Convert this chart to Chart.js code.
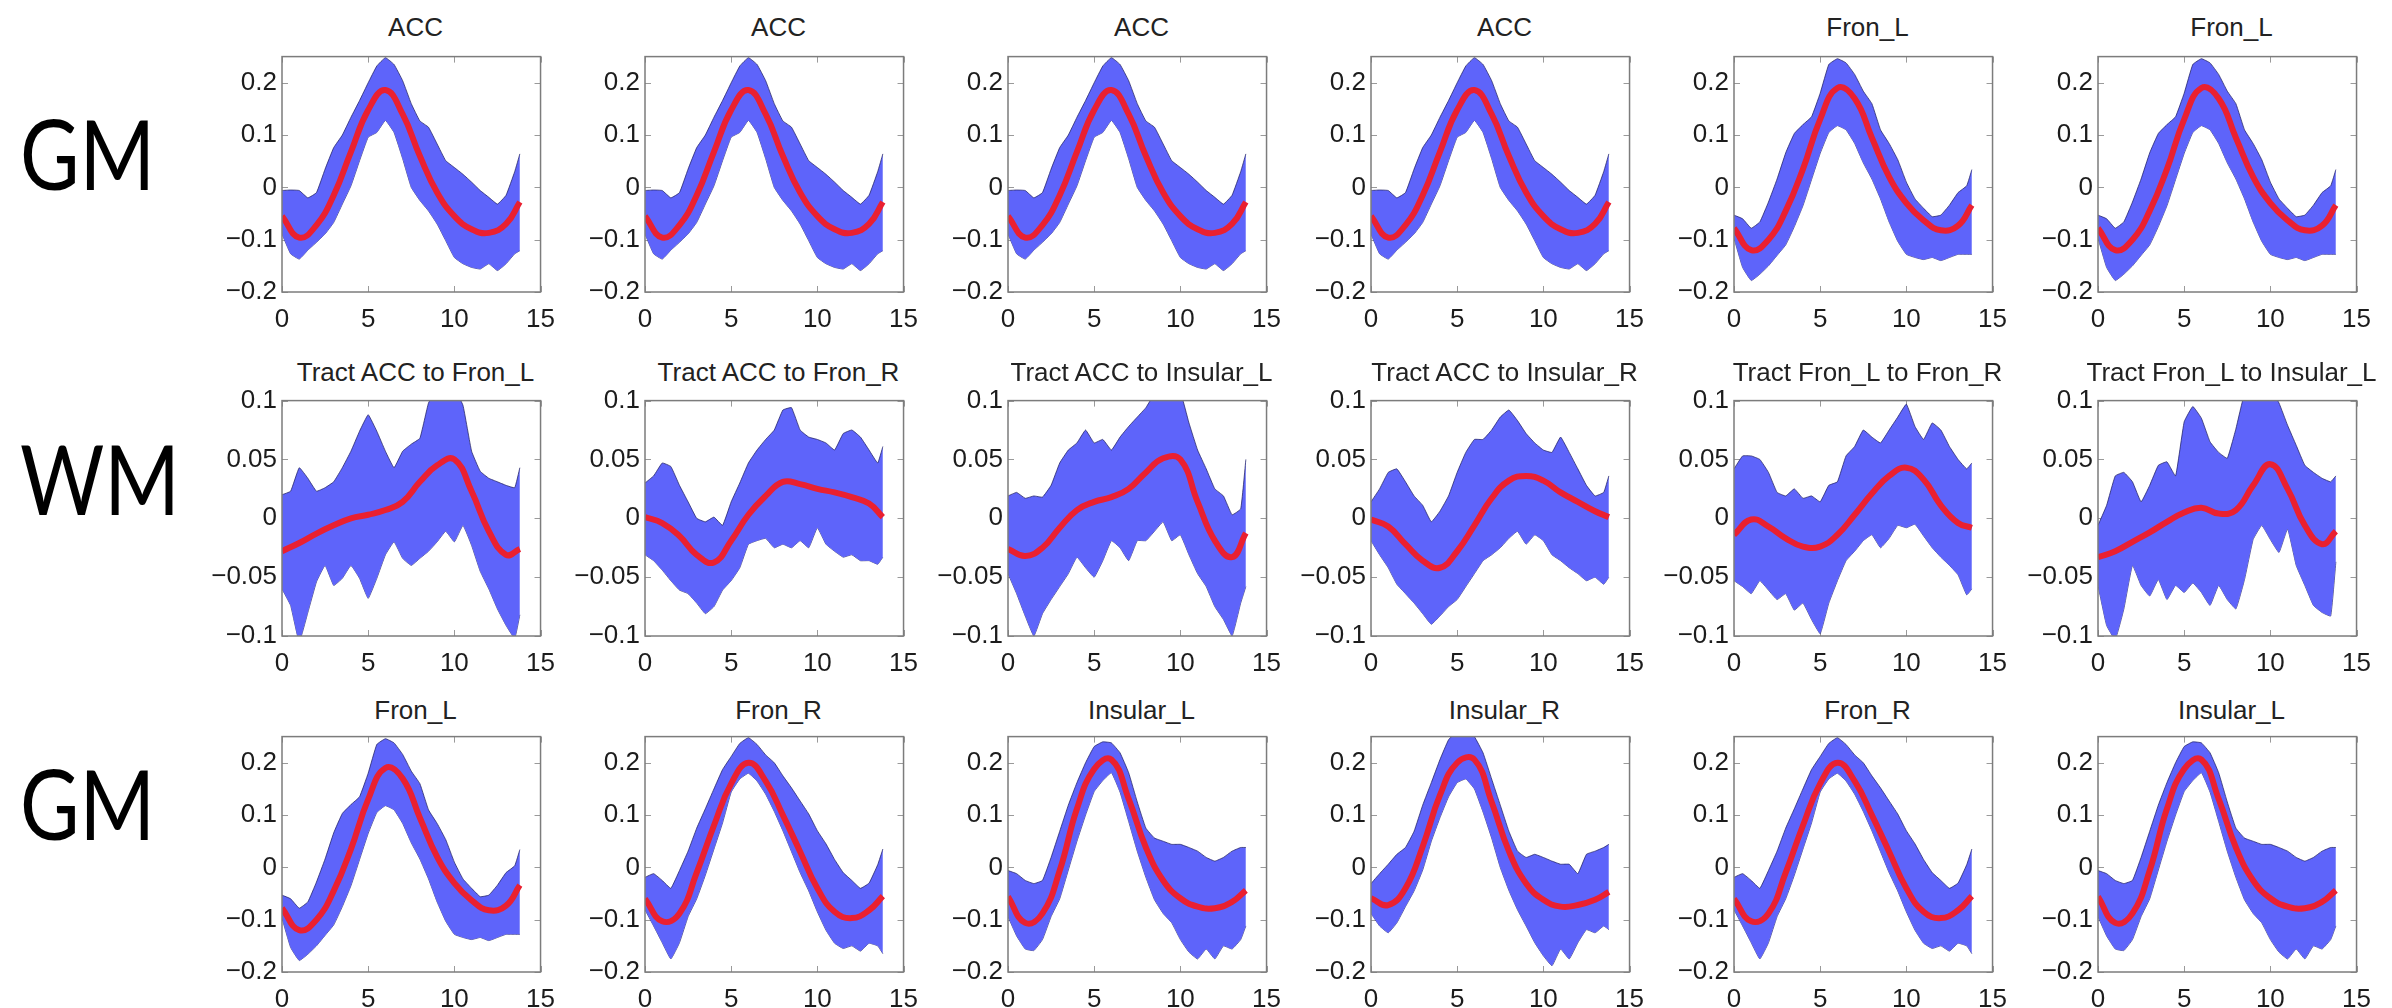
<!DOCTYPE html>
<html>
<head>
<meta charset="utf-8">
<script src="https://cdn.jsdelivr.net/npm/chart.js@4/dist/chart.umd.min.js"></script>
<style>
  html, body { margin: 0; padding: 0; background: #fff; }
  #page { position: relative; width: 2392px; height: 1008px; overflow: hidden; background: #fff; }
  #page canvas { position: absolute; }
  .title { position: absolute; font: 26px "Liberation Sans", Arial, sans-serif; line-height: 30px; color: #222; white-space: nowrap; transform: translateX(-50%); }
  .row-label { position: absolute; left: 20px; font: 97px Lato, sans-serif; line-height: 97px; color: #000; transform: scaleX(0.84); transform-origin: left top; }
</style>
</head>
<body>
<div id="page"></div>
<script>
// time axis (band samples every 0.5, mean every 1)
const xBand = [0, 0.5, 1, 1.5, 2, 2.5, 3, 3.5, 4, 4.5, 5, 5.5, 6, 6.5, 7, 7.5, 8, 8.5, 9, 9.5, 10, 10.5, 11, 11.5, 12, 12.5, 13, 13.5, 13.8];
const xMean = [0, 1, 2, 3, 4, 5, 6, 7, 8, 9, 10, 11, 12, 13, 13.8];

const xTicks = [0, 5, 10, 15];
const gmTicks = [-0.2, -0.1, 0, 0.1, 0.2];
const wmTicks = [-0.1, -0.05, 0, 0.05, 0.1];

// GM regions
const accMean = [-0.055, -0.096, -0.072, -0.015, 0.068, 0.148, 0.186, 0.14, 0.06, -0.01, -0.055, -0.08, -0.087, -0.07, -0.028];
const accUpper = [-0.006, -0.005, -0.006, -0.02, -0.01, 0.035, 0.076, 0.1, 0.134, 0.166, 0.2, 0.232, 0.248, 0.235, 0.204, 0.16, 0.127, 0.115, 0.083, 0.051, 0.038, 0.025, 0.01, -0.006, -0.019, -0.032, -0.015, 0.03, 0.064];
const accLower = [-0.089, -0.127, -0.137, -0.12, -0.105, -0.089, -0.067, -0.032, 0.003, 0.051, 0.096, 0.105, 0.128, 0.105, 0.055, 0, -0.025, -0.045, -0.07, -0.102, -0.134, -0.146, -0.153, -0.156, -0.146, -0.159, -0.146, -0.127, -0.121];

const fronLMean = [-0.078, -0.12, -0.1, -0.045, 0.035, 0.13, 0.19, 0.17, 0.095, 0.02, -0.03, -0.063, -0.082, -0.073, -0.034];
const fronLUpper = [-0.053, -0.06, -0.078, -0.066, -0.028, 0.016, 0.066, 0.103, 0.12, 0.135, 0.18, 0.235, 0.246, 0.238, 0.216, 0.184, 0.16, 0.11, 0.084, 0.053, 0.01, -0.022, -0.04, -0.056, -0.053, -0.034, -0.01, 0.003, 0.034];
const fronLLower = [-0.097, -0.153, -0.178, -0.166, -0.15, -0.13, -0.11, -0.075, -0.035, 0.015, 0.065, 0.105, 0.118, 0.11, 0.084, 0.047, 0.016, -0.022, -0.066, -0.103, -0.128, -0.134, -0.138, -0.134, -0.14, -0.134, -0.128, -0.128, -0.128];

const fronRMean = [-0.06, -0.103, -0.088, -0.01, 0.08, 0.16, 0.2, 0.165, 0.1, 0.03, -0.04, -0.085, -0.097, -0.082, -0.055];
const fronRUpper = [-0.019, -0.012, -0.025, -0.04, -0.006, 0.031, 0.075, 0.112, 0.15, 0.187, 0.212, 0.237, 0.248, 0.235, 0.215, 0.2, 0.175, 0.152, 0.127, 0.102, 0.07, 0.045, 0.015, -0.01, -0.025, -0.04, -0.03, 0.005, 0.035];
const fronRLower = [-0.081, -0.112, -0.144, -0.175, -0.144, -0.094, -0.06, -0.015, 0.035, 0.085, 0.144, 0.169, 0.18, 0.165, 0.14, 0.107, 0.07, 0.03, -0.01, -0.045, -0.085, -0.12, -0.145, -0.155, -0.15, -0.16, -0.145, -0.15, -0.165];

const insLMean = [-0.056, -0.106, -0.088, -0.006, 0.112, 0.188, 0.206, 0.131, 0.038, -0.025, -0.059, -0.075, -0.078, -0.066, -0.044];
const insLUpper = [-0.006, -0.012, -0.025, -0.031, -0.025, 0.019, 0.069, 0.119, 0.162, 0.2, 0.231, 0.24, 0.238, 0.219, 0.181, 0.125, 0.075, 0.056, 0.05, 0.044, 0.044, 0.038, 0.031, 0.019, 0.012, 0.019, 0.031, 0.038, 0.038];
const insLLower = [-0.094, -0.131, -0.156, -0.159, -0.138, -0.094, -0.06, -0.005, 0.05, 0.1, 0.145, 0.166, 0.181, 0.144, 0.088, 0.031, -0.019, -0.062, -0.088, -0.106, -0.138, -0.162, -0.175, -0.156, -0.175, -0.15, -0.156, -0.138, -0.112];

const insRMean = [-0.059, -0.072, -0.04, 0.04, 0.138, 0.2, 0.206, 0.125, 0.031, -0.031, -0.062, -0.075, -0.072, -0.062, -0.047];
const insRUpper = [-0.031, -0.012, 0.006, 0.025, 0.038, 0.069, 0.119, 0.162, 0.206, 0.244, 0.26, 0.265, 0.25, 0.219, 0.169, 0.119, 0.069, 0.031, 0.019, 0.025, 0.019, 0.012, 0.006, 0.006, -0.012, 0.025, 0.031, 0.038, 0.044];
const insRLower = [-0.088, -0.112, -0.125, -0.106, -0.075, -0.045, -0.005, 0.05, 0.095, 0.135, 0.162, 0.169, 0.15, 0.106, 0.056, 0, -0.044, -0.081, -0.112, -0.144, -0.169, -0.188, -0.156, -0.175, -0.144, -0.119, -0.125, -0.112, -0.119];

// WM tracts
const accFronLMean = [-0.028, -0.021, -0.013, -0.006, 0, 0.003, 0.007, 0.014, 0.031, 0.045, 0.05, 0.023, -0.011, -0.031, -0.026];
const accFronLUpper = [0.02, 0.023, 0.043, 0.034, 0.023, 0.026, 0.031, 0.043, 0.057, 0.074, 0.088, 0.074, 0.057, 0.043, 0.057, 0.063, 0.068, 0.098, 0.11, 0.115, 0.11, 0.096, 0.057, 0.04, 0.034, 0.031, 0.028, 0.026, 0.043];
const accFronLLower = [-0.06, -0.074, -0.105, -0.08, -0.054, -0.04, -0.057, -0.051, -0.04, -0.051, -0.068, -0.051, -0.031, -0.02, -0.034, -0.04, -0.034, -0.028, -0.02, -0.011, -0.02, -0.006, -0.023, -0.045, -0.06, -0.077, -0.091, -0.102, -0.082];

const accFronRMean = [0.001, -0.004, -0.015, -0.031, -0.0375, -0.019, 0.003, 0.019, 0.031, 0.029, 0.025, 0.022, 0.018, 0.0125, 0.001];
const accFronRUpper = [0.03, 0.036, 0.047, 0.044, 0.028, 0.014, 0, -0.003, 0.001, -0.006, 0.014, 0.03, 0.047, 0.058, 0.067, 0.075, 0.092, 0.094, 0.075, 0.069, 0.067, 0.064, 0.058, 0.072, 0.075, 0.069, 0.058, 0.047, 0.061];
const accFronRLower = [-0.031, -0.036, -0.044, -0.053, -0.061, -0.064, -0.072, -0.081, -0.075, -0.061, -0.053, -0.042, -0.022, -0.019, -0.017, -0.025, -0.022, -0.025, -0.019, -0.025, -0.008, -0.022, -0.028, -0.033, -0.031, -0.036, -0.036, -0.039, -0.033];

const accInsLMean = [-0.026, -0.032, -0.025, -0.008, 0.007, 0.014, 0.018, 0.025, 0.039, 0.051, 0.05, 0.014, -0.019, -0.033, -0.0125];
const accInsLUpper = [0.019, 0.022, 0.017, 0.019, 0.018, 0.028, 0.047, 0.058, 0.064, 0.075, 0.064, 0.067, 0.058, 0.069, 0.078, 0.086, 0.094, 0.106, 0.115, 0.12, 0.108, 0.081, 0.058, 0.042, 0.025, 0.019, 0.003, 0.008, 0.05];
const accInsLLower = [-0.047, -0.064, -0.083, -0.1, -0.081, -0.069, -0.058, -0.047, -0.033, -0.042, -0.05, -0.036, -0.019, -0.025, -0.036, -0.019, -0.019, -0.011, -0.003, -0.019, -0.014, -0.031, -0.047, -0.058, -0.075, -0.086, -0.1, -0.072, -0.058];

const accInsRMean = [-0.001, -0.007, -0.022, -0.036, -0.042, -0.028, -0.006, 0.017, 0.032, 0.036, 0.032, 0.022, 0.014, 0.006, 0.001];
const accInsRUpper = [0.014, 0.025, 0.039, 0.042, 0.031, 0.019, 0.011, -0.003, 0.006, 0.019, 0.039, 0.056, 0.067, 0.067, 0.075, 0.086, 0.092, 0.083, 0.072, 0.064, 0.058, 0.056, 0.069, 0.056, 0.042, 0.028, 0.019, 0.022, 0.036];
const accInsRLower = [-0.019, -0.031, -0.042, -0.056, -0.064, -0.072, -0.081, -0.09, -0.083, -0.075, -0.069, -0.058, -0.047, -0.036, -0.031, -0.025, -0.017, -0.011, -0.022, -0.014, -0.019, -0.031, -0.036, -0.042, -0.047, -0.053, -0.05, -0.056, -0.05];

const fronLFronRMean = [-0.014, -0.001, -0.007, -0.017, -0.024, -0.024, -0.014, 0.003, 0.021, 0.036, 0.043, 0.033, 0.011, -0.004, -0.008];
const fronLFronRUpper = [0.042, 0.053, 0.053, 0.05, 0.039, 0.022, 0.019, 0.025, 0.017, 0.019, 0.014, 0.028, 0.031, 0.053, 0.061, 0.075, 0.069, 0.064, 0.075, 0.086, 0.097, 0.078, 0.067, 0.081, 0.075, 0.061, 0.05, 0.042, 0.047];
const fronLFronRLower = [-0.053, -0.058, -0.064, -0.053, -0.061, -0.069, -0.064, -0.078, -0.072, -0.086, -0.098, -0.072, -0.053, -0.036, -0.028, -0.019, -0.014, -0.025, -0.017, -0.006, -0.008, -0.005, -0.015, -0.025, -0.033, -0.04, -0.048, -0.065, -0.06];

const fronLInsLMean = [-0.033, -0.028, -0.02, -0.012, -0.003, 0.005, 0.009, 0.004, 0.007, 0.028, 0.046, 0.025, -0.006, -0.022, -0.011];
const fronLInsLUpper = [-0.006, 0.011, 0.036, 0.039, 0.031, 0.014, 0.028, 0.045, 0.048, 0.036, 0.082, 0.095, 0.085, 0.065, 0.056, 0.051, 0.076, 0.106, 0.112, 0.115, 0.11, 0.098, 0.079, 0.062, 0.045, 0.039, 0.034, 0.031, 0.036];
const fronLInsLLower = [-0.057, -0.091, -0.103, -0.077, -0.04, -0.057, -0.066, -0.052, -0.069, -0.057, -0.063, -0.055, -0.063, -0.074, -0.057, -0.069, -0.077, -0.052, -0.018, -0.006, -0.018, -0.029, -0.009, -0.04, -0.057, -0.074, -0.08, -0.083, -0.037];

// panel table: [title, mean, upper, lower]
const rows = [
  { label: 'GM', yMin: -0.2, yMax: 0.25, yTicks: gmTicks, panels: [
    ['ACC', accMean, accUpper, accLower],
    ['ACC', accMean, accUpper, accLower],
    ['ACC', accMean, accUpper, accLower],
    ['ACC', accMean, accUpper, accLower],
    ['Fron_L', fronLMean, fronLUpper, fronLLower],
    ['Fron_L', fronLMean, fronLUpper, fronLLower]
  ]},
  { label: 'WM', yMin: -0.1, yMax: 0.1, yTicks: wmTicks, panels: [
    ['Tract ACC to Fron_L', accFronLMean, accFronLUpper, accFronLLower],
    ['Tract ACC to Fron_R', accFronRMean, accFronRUpper, accFronRLower],
    ['Tract ACC to Insular_L', accInsLMean, accInsLUpper, accInsLLower],
    ['Tract ACC to Insular_R', accInsRMean, accInsRUpper, accInsRLower],
    ['Tract Fron_L to Fron_R', fronLFronRMean, fronLFronRUpper, fronLFronRLower],
    ['Tract Fron_L to Insular_L', fronLInsLMean, fronLInsLUpper, fronLInsLLower]
  ]},
  { label: 'GM', yMin: -0.2, yMax: 0.25, yTicks: gmTicks, panels: [
    ['Fron_L', fronLMean, fronLUpper, fronLLower],
    ['Fron_R', fronRMean, fronRUpper, fronRLower],
    ['Insular_L', insLMean, insLUpper, insLLower],
    ['Insular_R', insRMean, insRUpper, insRLower],
    ['Fron_R', fronRMean, fronRUpper, fronRLower],
    ['Insular_L', insLMean, insLUpper, insLLower]
  ]}
];

// layout of the grid
const colLeft = [282, 645, 1008, 1371, 1734, 2098];
const rowTop = [52, 396, 732];
const titleMid = [27, 372, 710];
const labelTop = [104, 429, 754];
const boxW = 267, boxH = 240;
const padL = 80, padT = 16, padR = 18, padB = 46;

const bandColor = 'rgb(94, 100, 250)';
const bandEdge = 'rgba(35, 35, 100, 0.75)';
const meanColor = 'rgb(234, 32, 48)';

Chart.defaults.font.family = '"Liberation Sans", Arial, sans-serif';
Chart.defaults.font.size = 26;
Chart.defaults.color = '#1c1c1c';

function fmtTick(v) {
  return v < 0 ? '\u2212' + String(-v) : String(v);
}

function zip(xs, ys) {
  return xs.map((x, i) => ({ x: x, y: ys[i] }));
}

// matlab style box with inward ticks
const boxPlugin = {
  id: 'matlabBox',
  beforeDatasetsDraw(chart) {
    const { ctx, chartArea: a, scales } = chart;
    ctx.save();
    ctx.strokeStyle = '#9a9a9a';
    ctx.lineWidth = 1;
    ctx.beginPath();
    scales.x.ticks.forEach(t => {
      const px = Math.round(scales.x.getPixelForValue(t.value)) + 0.5;
      ctx.moveTo(px, a.bottom); ctx.lineTo(px, a.bottom - 6);
      ctx.moveTo(px, a.top); ctx.lineTo(px, a.top + 6);
    });
    scales.y.ticks.forEach(t => {
      const py = Math.round(scales.y.getPixelForValue(t.value)) + 0.5;
      ctx.moveTo(a.left, py); ctx.lineTo(a.left + 6, py);
      ctx.moveTo(a.right, py); ctx.lineTo(a.right - 6, py);
    });
    ctx.stroke();
    ctx.restore();
  },
  afterDatasetsDraw(chart) {
    const { ctx, chartArea: a } = chart;
    ctx.save();
    ctx.strokeStyle = '#7c7c7c';
    ctx.lineWidth = 1.5;
    ctx.strokeRect(a.left, a.top, a.right - a.left, a.bottom - a.top);
    ctx.restore();
  }
};

const page = document.getElementById('page');

rows.forEach((row, r) => {
  const lab = document.createElement('div');
  lab.className = 'row-label';
  lab.style.top = labelTop[r] + 'px';
  lab.textContent = row.label;
  page.appendChild(lab);

  row.panels.forEach((p, c) => {
    const [title, mean, upper, lower] = p;

    const t = document.createElement('div');
    t.className = 'title';
    t.style.left = (colLeft[c] + boxW / 2) + 'px';
    t.style.top = (titleMid[r] - 15) + 'px';
    t.textContent = title;
    page.appendChild(t);

    const canvas = document.createElement('canvas');
    const w = padL + boxW + padR, h = padT + boxH + padB;
    canvas.width = w;
    canvas.height = h;
    canvas.style.width = w + 'px';
    canvas.style.height = h + 'px';
    canvas.style.left = (colLeft[c] - padL) + 'px';
    canvas.style.top = (rowTop[r] - padT) + 'px';
    page.appendChild(canvas);

    new Chart(canvas, {
      type: 'line',
      data: {
        datasets: [
          {
            data: zip(xMean, mean),
            borderColor: meanColor,
            borderWidth: 6,
            pointRadius: 0,
            tension: 0.45,
            fill: false
          },
          {
            data: zip(xBand, upper),
            borderColor: bandEdge,
            borderWidth: 1,
            backgroundColor: bandColor,
            pointRadius: 0,
            tension: 0.1,
            fill: '+1'
          },
          {
            data: zip(xBand, lower),
            borderColor: bandEdge,
            borderWidth: 1,
            pointRadius: 0,
            tension: 0.1,
            fill: false
          }
        ]
      },
      options: {
        responsive: false,
        animation: false,
        devicePixelRatio: 1,
        layout: { padding: { top: padT, right: padR, left: 0, bottom: 0 } },
        plugins: {
          legend: { display: false },
          tooltip: { enabled: false },
          title: { display: false }
        },
        scales: {
          x: {
            type: 'linear',
            min: 0,
            max: 15,
            afterBuildTicks: s => { s.ticks = xTicks.map(v => ({ value: v })); },
            afterFit: s => { s.height = padB; },
            grid: { display: false, drawTicks: false },
            border: { display: false },
            ticks: { padding: 12, maxRotation: 0, callback: v => fmtTick(v) }
          },
          y: {
            type: 'linear',
            min: row.yMin,
            max: row.yMax,
            afterBuildTicks: s => { s.ticks = row.yTicks.map(v => ({ value: v })); },
            afterFit: s => { s.width = padL; },
            grid: { display: false, drawTicks: false },
            border: { display: false },
            ticks: { padding: 5, callback: v => fmtTick(v) }
          }
        }
      },
      plugins: [boxPlugin]
    });
  });
});
</script>
</body>
</html>
